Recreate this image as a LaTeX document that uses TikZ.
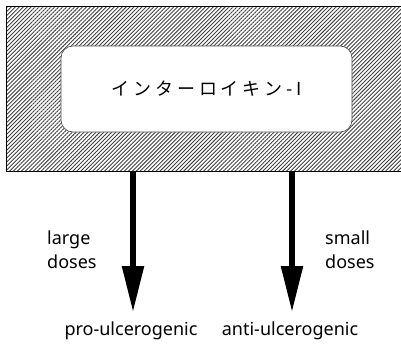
\documentclass[tikz,border=0pt]{standalone}
\usepackage{fontspec}
\setmainfont{Noto Sans}
\newfontfamily\jpfont[LetterSpace=22]{Noto Sans CJK JP}
\usetikzlibrary{arrows.meta,patterns.meta}
\tikzset{
  hatchbox/.style={draw,line width=1pt,pattern={Lines[angle=45,distance=2.8pt,line width=0.9pt]},pattern color=black!75},
  namebox/.style={draw=black!70,fill=white,rounded corners=12pt,line width=0.6pt},
  dosearrow/.style={line width=5.5pt,-{Triangle[width=21pt,length=46pt]}},
  label/.style={font=\fontsize{18}{24}\selectfont,inner sep=0pt}
}
\begin{document}
\begin{tikzpicture}[x=1pt,y=-1pt]
\useasboundingbox (0,0) rectangle (401,343);
\node[hatchbox,minimum width=398pt,minimum height=165pt] (outer) at (205,88.5) {};
\node[namebox,minimum width=291pt,minimum height=86pt] (il) at (206.5,89) {\fontsize{18}{20}\jpfont インターロイキン-I};
% start and end of the two dose arrows
\coordinate (l0) at (133,171.5);
\coordinate (l1) at (133,312);
\coordinate (r0) at (292,171.5);
\coordinate (r1) at (292,312);
\node[label] (pro) at (131,331) {pro-ulcerogenic};
\node[label] (anti) at (290,331) {anti-ulcerogenic};
\node[label,align=left,anchor=west] (large) at (47,250) {large\\doses};
\node[label,align=left,anchor=west] (small) at (325,250) {small\\doses};
\draw[dosearrow] (l0) -- (l1);
\draw[dosearrow] (r0) -- (r1);
\end{tikzpicture}
\end{document}
